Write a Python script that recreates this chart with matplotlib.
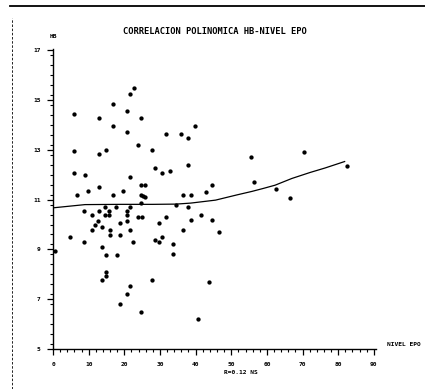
import numpy as np
import matplotlib.pyplot as plt
from matplotlib.ticker import MultipleLocator
from matplotlib.lines import Line2D

# datos: nivel EPO (x) y HB (y)
epo = [22.8, 21.7, 16.8, 6.0, 20.8, 12.8, 24.7, 16.7, 39.7, 20.8,
       23.8, 5.9, 12.9, 14.8, 27.8, 28.7, 31.7, 35.8, 37.8, 37.8,
       30.7, 32.8, 5.9, 8.9, 21.7, 6.8, 9.7, 12.8, 16.8, 19.7,
       24.6, 25.7, 24.6, 25.3, 25.8, 24.6, 36.6, 38.6, 42.8, 44.5,
       55.5, 56.5, 70.5, 82.5, 62.6, 66.5, 8.7, 10.9, 12.8, 14.7,
       15.7, 17.7, 20.8, 21.6, 14.6, 15.7, 12.7, 11.8, 13.8, 10.9,
       15.9, 15.9, 18.9, 18.9, 20.8, 20.8, 21.7, 22.3, 23.8, 24.9,
       4.7, 8.8, 13.8, 14.8, 17.9, 29.6, 31.7, 28.7, 29.6, 30.7,
       33.7, 33.7, 36.6, 37.8, 38.6, 41.6, 44.5, 46.5, 34.6, 0.5,
       14.8, 14.8, 13.8, 27.8, 21.7, 20.8, 18.9, 24.7, 40.8, 43.7]
hb = [15.47, 15.25, 14.84, 14.44, 14.55, 14.27, 14.27, 13.95, 13.96, 13.73,
      13.19, 12.97, 12.85, 12.99, 12.99, 12.29, 13.65, 13.65, 13.49, 12.40,
      12.08, 12.16, 12.05, 11.97, 11.89, 11.17, 11.36, 11.49, 11.17, 11.36,
      11.57, 11.57, 11.20, 11.15, 11.09, 10.88, 11.20, 11.20, 11.29, 11.60,
      12.72, 11.71, 12.91, 12.36, 11.41, 11.07, 10.56, 10.37, 10.56, 10.69,
      10.56, 10.72, 10.56, 10.72, 10.37, 10.37, 10.16, 9.97, 9.89, 9.76,
      9.76, 9.59, 10.08, 9.59, 10.37, 10.16, 9.76, 9.30, 10.29, 10.29,
      9.49, 9.28, 9.09, 8.77, 8.77, 10.08, 10.29, 9.39, 9.28, 9.49,
      9.20, 8.80, 9.79, 10.69, 10.19, 10.40, 10.19, 9.71, 10.80, 8.95,
      8.08, 7.92, 7.79, 7.79, 7.52, 7.20, 6.80, 6.49, 6.19, 7.71]

# curva de ajuste polinomico
curva_x = [0, 9, 19, 28, 34.5, 38.6, 45.6, 51.6, 55.8, 59, 62.3, 67, 72.1, 76.3, 81.8]
curva_y = [10.67, 10.80, 10.81, 10.81, 10.82, 10.86, 10.98, 11.19, 11.33, 11.45,
           11.58, 11.85, 12.09, 12.27, 12.53]

x_ticks = [0, 10, 20, 30, 40, 50, 60, 70, 80, 90]
y_ticks = [5, 7, 9, 11, 13, 15, 17]

plt.rcParams['font.family'] = ['DejaVu Sans Mono']
plt.rcParams['font.weight'] = 'bold'

fig = plt.figure(figsize=(4.25, 3.89), dpi=100)
ax = fig.add_axes([53 / 425, 40 / 389, 323 / 425, 300 / 389])

ax.plot(curva_x, curva_y, color='black', linewidth=0.9)
ax.plot(epo, hb, linestyle='none', marker='o', markersize=3.1,
        color='black', markeredgewidth=0)

ax.set_xlim(0, 90.6)
ax.set_ylim(5, 17.05)
ax.set_xticks(x_ticks)
ax.set_yticks(y_ticks)
ax.xaxis.set_minor_locator(MultipleLocator(2))
ax.yaxis.set_minor_locator(MultipleLocator(0.4))
ax.tick_params(which='major', direction='out', length=4, width=0.9,
               labelsize=4.5, pad=5)
ax.tick_params(which='minor', direction='out', length=2.5, width=0.8)

for s in ['top', 'right']:
    ax.spines[s].set_visible(False)
for s in ['left', 'bottom']:
    ax.spines[s].set_linewidth(1.0)

ax.set_title('CORRELACION POLINOMICA HB-NIVEL EPO', fontsize=6.3,
             fontweight='bold', pad=11)
fig.text(53 / 425, 1 - 37 / 389, 'HB', fontsize=4.5, ha='center', va='center')
fig.text(387 / 425, 1 - 344 / 389, 'NIVEL EPO', fontsize=4.5, ha='left', va='center')
fig.text(241 / 425, 1 - 372 / 389, 'R=0.12 NS', fontsize=4.5, ha='center', va='center')

# bordes de la hoja escaneada
fig.add_artist(Line2D([10 / 425, 1], [1 - 5.5 / 389, 1 - 5.5 / 389],
                      transform=fig.transFigure, color='black', linewidth=1.3))
fig.add_artist(Line2D([12 / 425, 12 / 425], [0, 1 - 18 / 389],
                      transform=fig.transFigure, color='black', linewidth=0.6,
                      linestyle=(0, (3, 2))))

fig.savefig('out.png', dpi=100, facecolor='white')
